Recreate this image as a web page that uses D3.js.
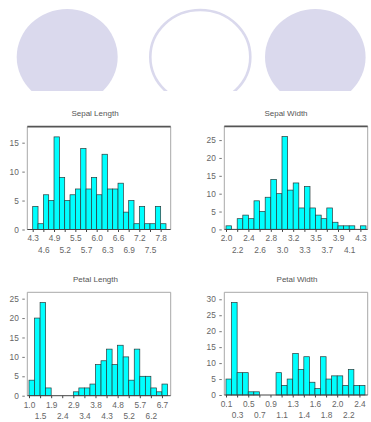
<!DOCTYPE html>
<html><head><meta charset="utf-8">
<script src="https://cdn.jsdelivr.net/npm/d3@7"></script>
<style>html,body{margin:0;padding:0;background:#fff;} svg{display:block;}</style>
</head><body>
<script>
// Iris measurements: 25 equal-width bins per variable
const sepalLengthRange = [4.3, 7.9];
const sepalLengthCounts = [4,1,6,5,16,9,5,6,7,14,7,9,6,13,7,7,8,3,5,1,4,1,1,4,1];
const sepalLengthTicks = ["4.3","4.6","4.9","5.2","5.5","5.7","6.0","6.3","6.6","6.9","7.2","7.5","7.8"];
const sepalLengthYTicks = [0,5,10,15];

const sepalWidthRange = [2.0, 4.4];
const sepalWidthCounts = [1,0,3,4,3,8,5,9,14,10,26,11,13,6,12,6,4,3,6,2,1,1,1,0,1];
const sepalWidthTicks = ["2.0","2.2","2.4","2.6","2.8","3.0","3.2","3.3","3.5","3.7","3.9","4.1","4.3"];
const sepalWidthYTicks = [0,5,10,15,20,25];

const petalLengthRange = [1.0, 6.9];
const petalLengthCounts = [4,20,24,2,0,0,0,0,1,2,2,3,8,9,12,8,13,10,4,12,5,5,2,1,3];
const petalLengthTicks = ["1.0","1.5","1.9","2.4","2.9","3.4","3.8","4.3","4.8","5.2","5.7","6.2","6.7"];
const petalLengthYTicks = [0,5,10,15,20,25];

const petalWidthRange = [0.1, 2.5];
const petalWidthCounts = [5,29,7,7,1,1,0,0,0,7,3,5,13,8,12,4,2,12,5,6,6,3,8,3,3];
const petalWidthTicks = ["0.1","0.3","0.5","0.7","0.9","1.1","1.3","1.4","1.6","1.8","2.0","2.2","2.4"];
const petalWidthYTicks = [0,5,10,15,20,25,30];

const titles = ["Sepal Length", "Sepal Width", "Petal Length", "Petal Width"];

const W = 371, H = 422;
const svg = d3.select("body").append("svg").attr("width", W).attr("height", H)
  .style("font-family", "'Liberation Sans', Arial, sans-serif");

// Decorative header discs, cut off by a white band
const clip = svg.append("defs").append("clipPath").attr("id", "hdr");
clip.append("rect").attr("x", 0).attr("y", 0).attr("width", W).attr("height", 91);
const hg = svg.append("g").attr("clip-path", "url(#hdr)");
const lav = "#dad9ed";
hg.append("ellipse").attr("cx", 67.2).attr("cy", 57).attr("rx", 50.5).attr("ry", 48).attr("fill", lav);
hg.append("ellipse").attr("cx", 200.3).attr("cy", 57).attr("rx", 50).attr("ry", 47).attr("fill", "none")
  .attr("stroke", lav).attr("stroke-width", 2.6);
hg.append("ellipse").attr("cx", 315.3).attr("cy", 57).attr("rx", 50.3).attr("ry", 48).attr("fill", lav);

// Panel layout: frame box, bar span, title anchor
const panels = [
  { title: titles[0], range: sepalLengthRange, counts: sepalLengthCounts, ticks: sepalLengthTicks, yTicks: sepalLengthYTicks,
    box: [27.3, 170.7, 126.7, 229.5], bars: [32.7, 166], tx: 95, ty: 116, darkTop: true },
  { title: titles[1], range: sepalWidthRange, counts: sepalWidthCounts, ticks: sepalWidthTicks, yTicks: sepalWidthYTicks,
    box: [224.3, 367.7, 126.3, 229.4], bars: [226, 366], tx: 286, ty: 116, darkTop: true },
  { title: titles[2], range: petalLengthRange, counts: petalLengthCounts, ticks: petalLengthTicks, yTicks: petalLengthYTicks,
    box: [27.3, 170.7, 292.3, 395.7], bars: [29, 167.5], tx: 95.5, ty: 281.5, darkTop: false },
  { title: titles[3], range: petalWidthRange, counts: petalWidthCounts, ticks: petalWidthTicks, yTicks: petalWidthYTicks,
    box: [224.3, 367.7, 292.3, 395], bars: [226, 365], tx: 297, ty: 281.5, darkTop: false }
];

const textCol = "#666";

panels.forEach(p => {
  const [x0, x1, y0, y1] = p.box;
  const n = p.counts.length;
  const step = (p.range[1] - p.range[0]) / n;
  const x = d3.scaleLinear().domain(p.range).range(p.bars);
  const y = d3.scaleLinear().domain([0, d3.max(p.counts) * 1.11]).range([y1, y0]);
  const g = svg.append("g");

  // frame
  g.append("line").attr("x1", x0).attr("x2", x0).attr("y1", y0).attr("y2", y1).attr("stroke", "#a8a8a8").attr("stroke-width", 1);
  g.append("line").attr("x1", x1).attr("x2", x1).attr("y1", y0).attr("y2", y1).attr("stroke", "#a8a8a8").attr("stroke-width", 1);
  g.append("line").attr("x1", x0).attr("x2", x1).attr("y1", y0).attr("y2", y0)
    .attr("stroke", p.darkTop ? "#555" : "#a8a8a8").attr("stroke-width", p.darkTop ? 1.8 : 1);

  // bars
  const bins = p.counts.map((c, i) => ({ lo: p.range[0] + i * step, hi: p.range[0] + (i + 1) * step, c }));
  g.selectAll("rect.bar").data(bins.filter(b => b.c > 0)).join("rect")
    .attr("class", "bar")
    .attr("x", d => x(d.lo)).attr("width", d => x(d.hi) - x(d.lo))
    .attr("y", d => y(d.c)).attr("height", d => y(0) - y(d.c))
    .attr("fill", "#00ffff").attr("stroke", "#2a3a3a").attr("stroke-width", 0.7);

  // bottom axis: tick labels at every second bin edge, staggered on two rows
  const edges = p.ticks.map((t, i) => p.range[0] + 2 * i * step);
  const xa = d3.axisBottom(x).tickValues(edges).tickFormat((d, i) => p.ticks[i]).tickSize(2.5).tickPadding(3.5);
  const xg = g.append("g").attr("transform", `translate(0,${y1})`).call(xa);
  xg.select(".domain").attr("d", `M${x0},0H${x1}`).attr("stroke", "#444");
  xg.selectAll(".tick line").attr("stroke", "#444");
  xg.selectAll(".tick text").attr("font-size", 8.3).attr("fill", textCol)
    .attr("dy", (d, i) => i % 2 === 0 ? "0.71em" : "2.1em");

  // left axis
  const ya = d3.axisLeft(y).tickValues(p.yTicks).tickSize(2.5).tickPadding(3.5);
  const yg = g.append("g").attr("transform", `translate(${x0 - 2.5},0)`).call(ya);
  yg.select(".domain").remove();
  yg.selectAll(".tick line").attr("stroke", "#777");
  yg.selectAll(".tick text").attr("font-size", 8.3).attr("fill", textCol);

  // title
  g.append("text").attr("x", p.tx).attr("y", p.ty).attr("text-anchor", "middle")
    .attr("font-size", 8).attr("fill", "#555").text(p.title);
});
</script>
</body></html>
